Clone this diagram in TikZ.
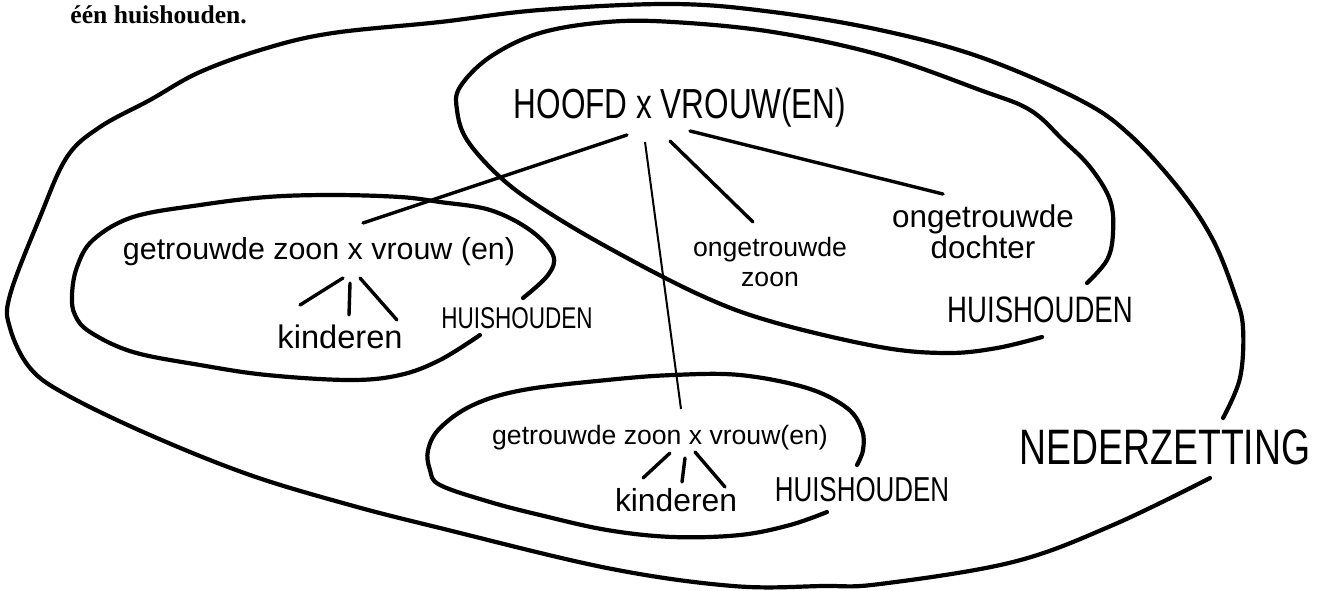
\documentclass[tikz,border=0pt]{standalone}
\usepackage{fontspec}
\setmainfont{Liberation Serif}
\newfontfamily\hand{Liberation Sans}
\newfontfamily\handcap{Liberation Sans}[FakeStretch=0.75]
\usetikzlibrary{calc}
\begin{document}
\begin{tikzpicture}[x=0.5pt,y=-0.5pt,
  txt/.style={inner sep=0pt,font=\hand\fontsize{#1}{#1}\selectfont},
  cap/.style={inner sep=0pt,font=\handcap\fontsize{#1}{#1}\selectfont},
  ring/.style={line width=2.1pt,line cap=round,line join=round},
  link/.style={line width=1.7pt,line cap=round}]
\useasboundingbox (0,0) rectangle (1320,590);
% caption from the page
\node[inner sep=0pt,anchor=base west,font=\fontsize{12.8}{15}\selectfont\bfseries] (cap) at (70,23) {één huishouden.};
% nederzetting
\draw[ring] plot[smooth,tension=0.6] coordinates {(1223,418) (1240,378) (1243,328) (1235,295) (1213,240) (1180,190) (1130,135) (1080,100) (980,57) (880,30) (773,12) (673,4) (540,10) (440,22) (333,33) (267,48) (200,72) (150,100) (100,127) (67,157) (40,217) (10,295) (10,328) (30,368) (67,395) (150,435) (250,475) (350,505) (440,528) (607,568) (733,586) (823,586) (880,584) (1013,562) (1113,525) (1210,478)};
\node[cap=24.9] (ned) at (1165,447) {NEDERZETTING};
% huishouden van het hoofd
\draw[ring] plot[smooth,tension=0.6] coordinates {(1042,337) (997,348) (947,353) (880,347) (773,322) (700,295) (607,247) (540,207) (500,177) (467,140) (457,110) (460,87) (490,57) (540,33) (607,22) (673,22) (773,32) (880,55) (980,90) (1030,110) (1063,140) (1090,167) (1110,200) (1113,233) (1107,260) (1087,283)};
\node[cap=21] (hoofd) at (680,108) {HOOFD x VROUW(EN)};
\node[txt=13.3,align=center] (oz) at (770,262) {ongetrouwde\\[2pt]zoon};
\node[txt=15.7,align=center] (od) at (983,232) {ongetrouwde\\dochter};
\node[cap=18.4] (hh1) at (1040,310) {HUISHOUDEN};
% linker huishouden
\draw[ring] plot[smooth,tension=0.6] coordinates {(523,298) (548,275) (553,255) (530,230) (490,210) (440,202) (400,197) (333,195) (267,197) (200,205) (133,217) (93,240) (77,267) (72,295) (75,315) (90,332) (133,352) (200,365) (267,375) (350,380) (400,375) (440,360) (480,335)};
\node[txt=15.2] (gzl) at (319,252) {getrouwde zoon x vrouw (en)};
\node[txt=16.3] (kl) at (340,337) {kinderen};
\node[cap=15] (hh2) at (517,318) {HUISHOUDEN};
% onderste huishouden
\draw[ring] plot[smooth,tension=0.6] coordinates {(857,465) (863,450) (862,430) (847,408) (807,388) (740,375) (673,375) (607,380) (523,390) (473,405) (440,428) (428,450) (430,470) (440,485) (490,502) (540,515) (607,530) (673,537) (740,535) (790,525) (827,512)};
\node[txt=13.3] (gzb) at (660,438) {getrouwde zoon x vrouw(en)};
\node[txt=15.9] (kb) at (676,500) {kinderen};
\node[cap=17.3] (hh3) at (862,490) {HUISHOUDEN};
% lijnen
\draw[link] ($(hoofd)+(-53,27)$) -- ($(gzl)+(44,-29)$);
\draw[line width=1pt] ($(hoofd)+(-35,34)$) -- ($(gzb)+(21,-29)$);
\draw[link] ($(hoofd)+(-10,33)$) -- ($(oz)+(-17,-40)$);
\draw[link] ($(hoofd)+(10,23)$) -- ($(od)+(-40,-38)$);
\draw[link] ($(gzl)+(24,26)$) -- ($(kl)+(-40,-32)$);
\draw[link] ($(gzl)+(31,31)$) -- ($(kl)+(9,-22)$);
\draw[link] ($(gzl)+(41,26)$) -- ($(kl)+(57,-17)$);
\draw[link] ($(gzb)+(10,15)$) -- ($(kb)+(-33,-22)$);
\draw[link] ($(gzb)+(25,20)$) -- ($(kb)+(6,-18)$);
\draw[link] ($(gzb)+(35,14)$) -- ($(kb)+(49,-13)$);
\end{tikzpicture}
\end{document}
